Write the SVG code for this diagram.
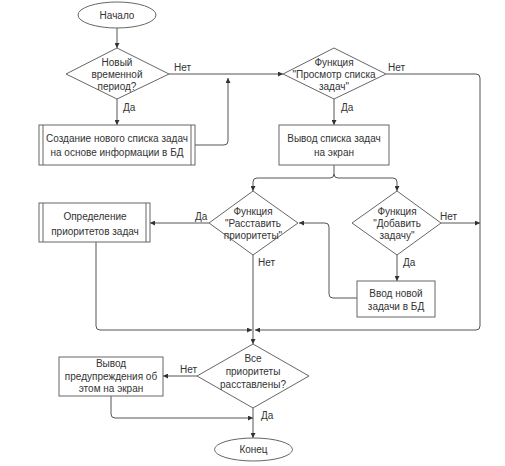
<svg xmlns="http://www.w3.org/2000/svg" width="505" height="466" viewBox="0 0 505 466">
<defs>
<marker id="a" viewBox="0 0 8 8" refX="8" refY="4" markerWidth="5" markerHeight="5" orient="auto" markerUnits="userSpaceOnUse">
<path d="M0,0 L8,4 L0,8 Z" fill="#333"/>
</marker>
</defs>
<style>
.n{fill:#fff;stroke:#666;stroke-width:1}
.t{font-family:"Liberation Sans",Arial,sans-serif;font-size:10px;fill:#333;text-anchor:middle}
.l{font-family:"Liberation Sans",Arial,sans-serif;font-size:10px;fill:#333}
.c{fill:none;stroke:#555;stroke-width:1}
</style>
<rect width="505" height="466" fill="#fff"/>
<g id="connectors">
<path class="c" d="M117,28 V48" marker-end="url(#a)"/>
<path class="c" d="M117,99 V125" marker-end="url(#a)"/>
<path class="c" d="M169,74 H283" marker-end="url(#a)"/>
<path class="c" d="M195,145 H224 Q228,145 228,141 V78" marker-end="url(#a)"/>
<path class="c" d="M334,99 V125" marker-end="url(#a)"/>
<path class="c" d="M386,74 H476 Q480,74 480,78 V326 Q480,330 476,330 H255" marker-end="url(#a)"/>
<path class="c" d="M334,165 V174 Q334,178 330,178 H257 Q253,178 253,182 V191" marker-end="url(#a)"/>
<path class="c" d="M334,174 Q334,178 338,178 H393 Q397,178 397,182 V191" marker-end="url(#a)"/>
<path class="c" d="M441,223 H480" marker-end="url(#a)"/>
<path class="c" d="M397,255 V281" marker-end="url(#a)"/>
<path class="c" d="M357,298 H333 Q329,298 329,294 V227 Q329,223 325,223 H299" marker-end="url(#a)"/>
<path class="c" d="M209,223 H150" marker-end="url(#a)"/>
<path class="c" d="M96,242 V326 Q96,330 100,330 H252" marker-end="url(#a)"/>
<path class="c" d="M253,255 V344" marker-end="url(#a)"/>
<path class="c" d="M197,376 H163" marker-end="url(#a)"/>
<path class="c" d="M111,396 V414 Q111,418 115,418 H253" marker-end="url(#a)"/>
<path class="c" d="M253,408 V438" marker-end="url(#a)"/>
<text class="l" x="174" y="71">Нет</text>
<text class="l" x="123" y="111">Да</text>
<text class="l" x="388" y="71">Нет</text>
<text class="l" x="341" y="111">Да</text>
<text class="l" x="440" y="220">Нет</text>
<text class="l" x="403" y="266">Да</text>
<text class="l" x="195" y="220">Да</text>
<text class="l" x="258" y="266">Нет</text>
<text class="l" x="180" y="373">Нет</text>
<text class="l" x="261" y="419">Да</text>
</g>
<g id="start">
<ellipse class="n" cx="117" cy="15" rx="39" ry="13"/>
<text class="t" x="117" y="19">Начало</text>
</g>
<g id="d1">
<polygon class="n" points="117,48 169,74 117,99 66,74"/>
<text class="t" x="117" y="66">Новый</text>
<text class="t" x="117" y="78">временной</text>
<text class="t" x="117" y="90">период?</text>
</g>
<g id="p1">
<rect class="n" x="39" y="125" width="156" height="40"/>
<line class="n" x1="43" y1="125" x2="43" y2="165"/>
<line class="n" x1="191" y1="125" x2="191" y2="165"/>
<text class="t" x="117" y="142">Создание нового списка задач</text>
<text class="t" x="117" y="156">на основе информации в БД</text>
</g>
<g id="d2">
<polygon class="n" points="334,48 386,74 334,99 283,74"/>
<text class="t" x="334" y="66">Функция</text>
<text class="t" x="334" y="78">"Просмотр списка</text>
<text class="t" x="334" y="90">задач"</text>
</g>
<g id="p2">
<rect class="n" x="279" y="125" width="110" height="40"/>
<text class="t" x="334" y="142">Вывод списка задач</text>
<text class="t" x="334" y="156">на экран</text>
</g>
<g id="d3">
<polygon class="n" points="253,191 298,223 253,255 209,223"/>
<text class="t" x="253" y="215">Функция</text>
<text class="t" x="253" y="227">"Расставить</text>
<text class="t" x="253" y="239">приоритеты"</text>
</g>
<g id="d4">
<polygon class="n" points="397,191 441,223 397,255 352,223"/>
<text class="t" x="397" y="215">Функция</text>
<text class="t" x="397" y="227">"Добавить</text>
<text class="t" x="397" y="239">задачу"</text>
</g>
<g id="p3">
<rect class="n" x="39" y="203" width="111" height="39"/>
<line class="n" x1="43" y1="203" x2="43" y2="242"/>
<line class="n" x1="146" y1="203" x2="146" y2="242"/>
<text class="t" x="95" y="220">Определение</text>
<text class="t" x="95" y="235">приоритетов задач</text>
</g>
<g id="p4">
<rect class="n" x="357" y="281" width="78" height="36"/>
<text class="t" x="396" y="297">Ввод новой</text>
<text class="t" x="396" y="310">задачи в БД</text>
</g>
<g id="d5">
<polygon class="n" points="253,344 309,376 253,408 197,376"/>
<text class="t" x="253" y="362">Все</text>
<text class="t" x="253" y="375">приоритеты</text>
<text class="t" x="253" y="388">расставлены?</text>
</g>
<g id="p5">
<rect class="n" x="59" y="357" width="104" height="39"/>
<text class="t" x="111" y="367">Вывод</text>
<text class="t" x="111" y="380">предупреждения об</text>
<text class="t" x="111" y="392">этом на экран</text>
</g>
<g id="end">
<ellipse class="n" cx="253.5" cy="449.5" rx="39" ry="11.5"/>
<text class="t" x="253.5" y="453">Конец</text>
</g>
</svg>
